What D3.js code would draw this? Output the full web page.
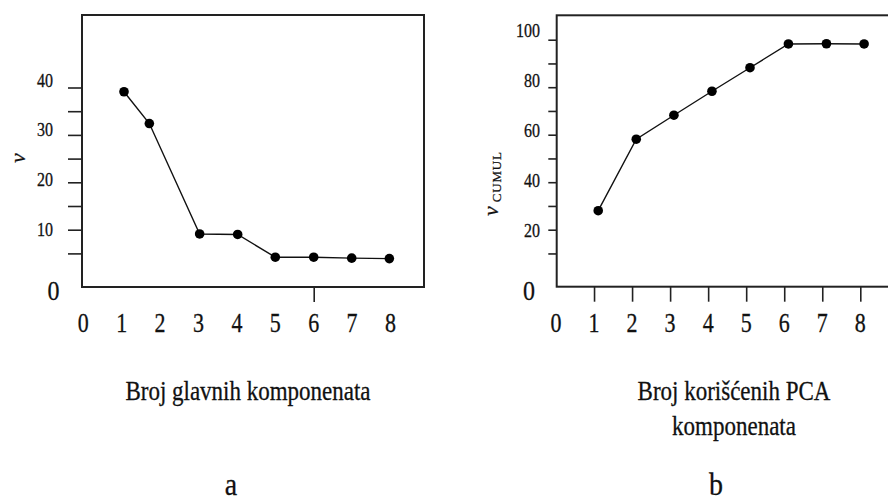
<!DOCTYPE html>
<html><head><meta charset="utf-8">
<script src="https://cdn.jsdelivr.net/npm/d3@7"></script>
<style>html,body{margin:0;padding:0;background:#fff;}svg{display:block;}
text{font-family:"Liberation Serif", serif;}</style>
</head><body>
<svg id="c" width="888" height="504"></svg>
<script>
// ---- data ----
const xTickLabels = [0,1,2,3,4,5,6,7,8];
// panel a
const aX = [1.06, 1.72, 3.03, 4.02, 5.0, 6.0, 6.99, 7.97];
const aV = [39.1, 32.4, 9.1, 9.0, 4.2, 4.2, 4.0, 3.9];
const aYTicks = [5,10,15,20,25,30,35,40];
const aYLabels = [10,20,30,40];
const aXTicks = [6];
// panel b
const bX = [1.11, 2.11, 3.10, 4.10, 5.10, 6.11, 7.11, 8.10];
const bV = [28.0, 58.1, 68.2, 78.3, 88.2, 98.2, 98.3, 98.2];
const bYTicks = [10,20,30,40,50,60,70,80,90,100];
const bYLabels = [20,40,60,80,100];
const bXTicks = [1,2,3,4,5,6,7,8];
const aTitle = ["Broj glavnih komponenata"];
const bTitle = ["Broj korišćenih PCA", "komponenata"];

const svg = d3.select("#c");

function txt(g, x, y, s, size, opts={}) {
  const t = g.append("text")
    .attr("transform", `translate(${x},${y}) rotate(${opts.rot||0}) scale(1,${opts.sy||1.15})`)
    .attr("text-anchor", opts.anchor || "middle")
    .attr("dy", "0.35em")
    .attr("font-size", size)
    .attr("fill", "#111")
    .attr("stroke", "#111").attr("stroke-width", 0.25);
  if (opts.italic) t.attr("font-style", "italic");
  t.text(s);
  return t;
}

function panel(cfg) {
  const g = svg.append("g");
  const x = d3.scaleLinear().domain([0,8]).range(cfg.xr);
  const y = d3.scaleLinear().domain(cfg.yd).range(cfg.yr);
  const yLab = d3.scaleLinear().domain(cfg.labD).range(cfg.labR);
  g.append("rect").attr("x", cfg.box[0]).attr("y", cfg.box[1])
    .attr("width", cfg.box[2]-cfg.box[0]).attr("height", cfg.box[3]-cfg.box[1])
    .attr("fill","none").attr("stroke","#222").attr("stroke-width",2);
  const ya = g.append("g").attr("transform", `translate(${cfg.box[0]},0)`)
    .call(d3.axisLeft(y).tickValues(cfg.yTicks).tickSize(cfg.yTickLen).tickFormat(""));
  ya.select(".domain").remove();
  ya.selectAll("line").attr("stroke","#222").attr("stroke-width",1.6);
  const xa = g.append("g").attr("transform", `translate(0,${cfg.box[3]})`)
    .call(d3.axisBottom(x).tickValues(cfg.xTicks).tickSize(15).tickFormat(""));
  xa.select(".domain").remove();
  xa.selectAll("line").attr("stroke","#222").attr("stroke-width",1.6);
  cfg.yLabels.forEach(v => txt(g, cfg.labX, yLab(v), String(v), 16, {anchor:"end", sy:1.17}));
  xTickLabels.forEach(v => txt(g, x(v), 323, String(v), 22, {sy:1.2}));
  txt(g, cfg.originX, 290, "0", 24, {sy:1.15});
  const pts = cfg.xs.map((d,i)=>[d, cfg.vs[i]]);
  g.append("path").datum(pts)
    .attr("d", d3.line().x(d=>x(d[0])).y(d=>y(d[1])))
    .attr("fill","none").attr("stroke","#111").attr("stroke-width",1.4);
  g.selectAll("circle.p").data(pts).enter().append("circle")
    .attr("cx", d=>x(d[0])).attr("cy", d=>y(d[1])).attr("r", 4.8).attr("fill","#000");
  cfg.title.forEach((s,i) => txt(g, cfg.titleX, 390 + i*35, s, 23, {sy:1.18}));
  txt(g, cfg.letterX, 484, cfg.letter, 28, {sy:1.15});
  return g;
}

const ga = panel({
  xr:[83.3,390.5], yd:[0,40], yr:[277.1,87.5], labD:[10,40], labR:[229.7,80],
  box:[82,15,424,287], yTicks:aYTicks, yTickLen:14, xTicks:aXTicks, yLabels:aYLabels,
  labX:53, originX:53.5, xs:aX, vs:aV, title:aTitle, titleX:248, letter:"a", letterX:231
});
txt(ga, 17, 158, "v", 22, {rot:-90, italic:true, sy:1.0});

const gb = panel({
  xr:[556,860.3], yd:[0,100], yr:[277.2,39.7], labD:[20,100], labR:[230,30.5],
  box:[556.7,15.3,900,286.7], yTicks:bYTicks, yTickLen:8.4, xTicks:bXTicks, yLabels:bYLabels,
  labX:540, originX:529, xs:bX, vs:bV, title:bTitle, titleX:734, letter:"b", letterX:716
});
const yt = gb.append("text")
  .attr("transform","translate(496,216) rotate(-90)")
  .attr("text-anchor","start")
  .attr("fill","#111").attr("stroke","#111").attr("stroke-width",0.25);
yt.append("tspan").attr("font-size",22).attr("font-style","italic").attr("dy","0.1em").text("v");
yt.append("tspan").attr("font-size",13).attr("dx","4").attr("dy","0.25em").attr("letter-spacing","0.8").text("CUMUL");
</script>
</body></html>
